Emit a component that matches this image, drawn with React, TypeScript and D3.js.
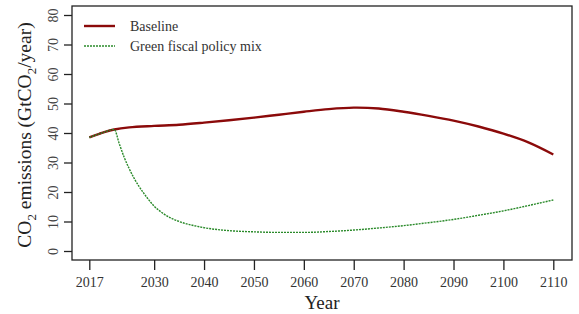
import { useRef, useEffect } from "react";
import * as d3 from "d3";

const baselineYears = [2017, 2019, 2020, 2022, 2025, 2030, 2035, 2040, 2045, 2050, 2055, 2060, 2065, 2070, 2075, 2080, 2085, 2090, 2095, 2100, 2105, 2110];
const baselineValues = [38.5, 39.7, 40.3, 41.2, 41.9, 42.4, 42.8, 43.5, 44.3, 45.2, 46.2, 47.2, 48.1, 48.6, 48.3, 47.2, 45.8, 44.2, 42.2, 39.8, 36.8, 32.7];

const greenYears = [2017, 2019, 2020, 2022, 2023, 2024, 2025, 2026, 2027, 2028, 2030, 2032, 2035, 2038, 2040, 2045, 2050, 2055, 2060, 2065, 2070, 2075, 2080, 2085, 2090, 2095, 2100, 2105, 2110];
const greenValues = [38.5, 39.7, 40.3, 41.2, 36.4, 31.7, 27.9, 24.6, 21.8, 19.4, 15.2, 12.5, 10.0, 8.6, 7.9, 6.9, 6.5, 6.3, 6.3, 6.6, 7.1, 7.8, 8.6, 9.6, 10.7, 12.1, 13.6, 15.4, 17.3];

const xTicks = [2017, 2030, 2040, 2050, 2060, 2070, 2080, 2090, 2100, 2110];
const yTicks = [0, 10, 20, 30, 40, 50, 60, 70, 80];

const seriesNames = ["Baseline", "Green fiscal policy mix"];

const App = () => {
  const svgRef = useRef(null);

  useEffect(() => {
    const svg = d3.select(svgRef.current);
    svg.selectAll("*").remove();

    const font = "'Liberation Serif', 'DejaVu Serif', serif";
    const box = { left: 72, top: 6, right: 572, bottom: 260 };

    const x = d3.scaleLinear().domain([2017, 2110]).range([89.3, 553.3]);
    const y = d3.scaleLinear().domain([0, 80]).range([251, 15]);

    // plot frame
    svg
      .append("rect")
      .attr("x", box.left)
      .attr("y", box.top)
      .attr("width", box.right - box.left)
      .attr("height", box.bottom - box.top)
      .attr("fill", "none")
      .attr("stroke", "#222")
      .attr("stroke-width", 1.3);

    // x axis
    const xAxis = svg
      .append("g")
      .attr("transform", `translate(0,${box.bottom})`)
      .call(d3.axisBottom(x).tickValues(xTicks).tickFormat(d3.format("d")).tickSize(10).tickSizeOuter(0));
    xAxis.select(".domain").remove();
    xAxis.selectAll(".tick line").attr("stroke", "#222").attr("stroke-width", 1.3);
    xAxis
      .selectAll(".tick text")
      .attr("font-family", font)
      .attr("font-size", 14)
      .attr("fill", "#333")
      .attr("y", 17);

    // y axis
    const yAxis = svg
      .append("g")
      .attr("transform", `translate(${box.left},0)`)
      .call(d3.axisLeft(y).tickValues(yTicks).tickSize(8).tickSizeOuter(0));
    yAxis.select(".domain").remove();
    yAxis.selectAll(".tick line").attr("stroke", "#222").attr("stroke-width", 1.3);
    yAxis
      .selectAll(".tick text")
      .attr("font-family", font)
      .attr("font-size", 14)
      .attr("fill", "#444")
      .attr("x", 0)
      .attr("dy", 0)
      .attr("text-anchor", "middle")
      .attr("transform", "translate(-14,0) rotate(-90)");

    // axis titles
    svg
      .append("text")
      .attr("x", 322)
      .attr("y", 309)
      .attr("text-anchor", "middle")
      .attr("font-family", font)
      .attr("font-size", 19)
      .attr("fill", "#222")
      .text("Year");

    const yTitle = svg
      .append("text")
      .attr("transform", `translate(31,${(box.top + box.bottom) / 2 + 2}) rotate(-90)`)
      .attr("text-anchor", "middle")
      .attr("font-family", font)
      .attr("font-size", 19.5)
      .attr("fill", "#222");
    yTitle.append("tspan").text("CO");
    yTitle.append("tspan").attr("font-size", 13).attr("dy", 5).text("2");
    yTitle.append("tspan").attr("dy", -5).text(" emissions (GtCO");
    yTitle.append("tspan").attr("font-size", 13).attr("dy", 5).text("2");
    yTitle.append("tspan").attr("dy", -5).text("/year)");

    const baseLine = d3
      .line()
      .x((d) => x(d[0]))
      .y((d) => y(d[1]))
      .curve(d3.curveCatmullRom.alpha(0.5));

    const greenLine = d3
      .line()
      .x((d) => x(d[0]))
      .y((d) => y(d[1]))
      .curve(d3.curveMonotoneX);

    const baseData = baselineYears.map((yr, i) => [yr, baselineValues[i]]);
    const greenData = greenYears.map((yr, i) => [yr, greenValues[i]]);

    svg
      .append("path")
      .datum(baseData)
      .attr("d", baseLine)
      .attr("fill", "none")
      .attr("stroke", "#8b0a0a")
      .attr("stroke-width", 2.4);

    svg
      .append("path")
      .datum(greenData)
      .attr("d", greenLine)
      .attr("fill", "none")
      .attr("stroke", "#2a8a2a")
      .attr("stroke-width", 1.4)
      .attr("stroke-dasharray", "2,1");

    // legend
    const legend = svg.append("g");
    const styles = [
      { color: "#8b0a0a", width: 2.4, dash: null },
      { color: "#2a8a2a", width: 1.4, dash: "2,1" },
    ];
    seriesNames.forEach((name, i) => {
      const ly = 26 + i * 20;
      legend
        .append("line")
        .attr("x1", 84)
        .attr("x2", 115)
        .attr("y1", ly)
        .attr("y2", ly)
        .attr("stroke", styles[i].color)
        .attr("stroke-width", styles[i].width)
        .attr("stroke-dasharray", styles[i].dash);
      legend
        .append("text")
        .attr("x", 130)
        .attr("y", ly)
        .attr("dy", "0.35em")
        .attr("font-family", font)
        .attr("font-size", 14)
        .attr("fill", "#333")
        .text(name);
    });
  }, []);

  return (
    <svg
      ref={svgRef}
      width={579}
      height={314}
      style={{ position: "absolute", left: 0, top: 0, background: "#fff" }}
    ></svg>
  );
};

export default App;
